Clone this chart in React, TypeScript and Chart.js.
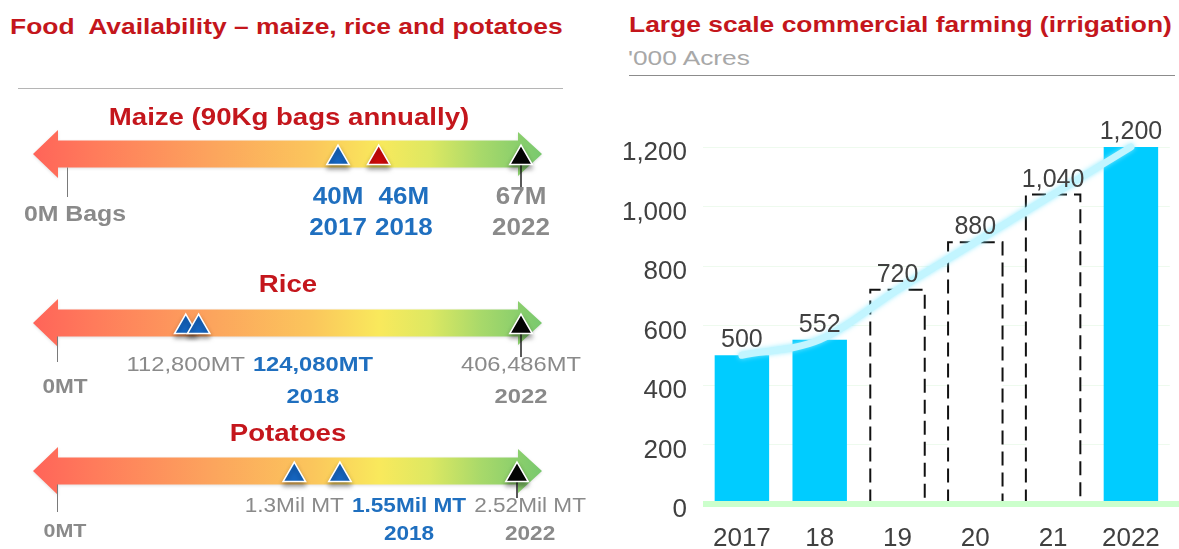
import React, { useEffect, useRef } from "react";
import { Chart, registerables } from "chart.js";
Chart.register(...registerables);

const FONT = "'Liberation Sans', Arial, Helvetica, sans-serif";

// ---------- Left panel data ----------
const maizeValues = [40, 46, 67];
const maizeLabels = ["40M", "46M", "67M"];
const maizeYears = ["2017", "2018", "2022"];

const riceValues = [112800, 124080, 406486];
const riceLabels = ["112,800MT", "124,080MT", "406,486MT"];
const riceYears = ["", "2018", "2022"];

const potatoValues = [1.3, 1.55, 2.52];
const potatoLabels = ["1.3Mil MT", "1.55Mil MT", "2.52Mil MT"];
const potatoYears = ["", "2018", "2022"];

// ---------- Right panel data ----------
const farmYears = ["2017", "18", "19", "20", "21", "2022"];
const farmAcres = [500, 552, 720, 880, 1040, 1200];
const farmProjected = [false, false, true, true, true, false];

// ---------- styles ----------
const RED = "#c4161c";
const BLUE = "#1f6fbf";
const GRAY = "#8a8a8a";
const M_BLUE = "#1565c0";
const M_RED = "#cc0a0a";
const M_BLACK = "#050505";
const SX = 1.13;

type Row = {
  values: number[];
  labels: string[];
  years: string[];
  zeroLabel: string;
  center: number;
  padLeft: number;
  padRight: number;
  marker: string[];
  textColor: string[];
  valueBold: boolean[];
  font: number;
  valueDy: number;
  yearDy: number;
  zeroDy: number;
  tickEnd: number;
};

const ROWS: Row[] = [
  {
    values: maizeValues, labels: maizeLabels, years: maizeYears, zeroLabel: "0M Bags",
    center: 153.5, padLeft: 67, padRight: 69,
    marker: [M_BLUE, M_RED, M_BLACK], textColor: [BLUE, BLUE, GRAY], valueBold: [true, true, true],
    font: 23, valueDy: 44, yearDy: 75, zeroDy: 61, tickEnd: 43,
  },
  {
    values: riceValues, labels: riceLabels, years: riceYears, zeroLabel: "0MT",
    center: 323, padLeft: 57, padRight: 69,
    marker: [M_BLUE, M_BLUE, M_BLACK], textColor: [GRAY, BLUE, GRAY], valueBold: [false, true, false],
    font: 21, valueDy: 42, yearDy: 74, zeroDy: 64, tickEnd: 39,
  },
  {
    values: potatoValues, labels: potatoLabels, years: potatoYears, zeroLabel: "0MT",
    center: 471, padLeft: 57, padRight: 73,
    marker: [M_BLUE, M_BLUE, M_BLACK], textColor: [GRAY, BLUE, GRAY], valueBold: [false, true, false],
    font: 20, valueDy: 35, yearDy: 63, zeroDy: 61, tickEnd: 41,
  },
];

const ROW_TOP_OFF = 45; // canvas top = center - 45
const ROW_H = 145;

function stretchText(ctx: CanvasRenderingContext2D, text: string, x: number, y: number, font: string, color: string, sx: number) {
  ctx.save();
  ctx.font = font;
  ctx.fillStyle = color;
  ctx.textAlign = "center";
  ctx.textBaseline = "middle";
  ctx.translate(x, y);
  ctx.scale(sx, 1);
  ctx.fillText(text, 0, 0);
  ctx.restore();
}

function measure(ctx: CanvasRenderingContext2D, text: string, font: string, sx: number) {
  ctx.save();
  ctx.font = font;
  const w = ctx.measureText(text).width * sx;
  ctx.restore();
  return w;
}

function makeArrowPlugin(row: Row) {
  return {
    id: "arrowDeco",
    beforeDatasetsDraw(chart: any) {
      const ctx: CanvasRenderingContext2D = chart.ctx;
      const xs = chart.scales.x;
      const ys = chart.scales.y;
      const cy = ys.getPixelForValue(0) - 4;
      const xL = 33, xBL = 58, xBR = 518, xR = 542;
      const bh = 13.5, hh = 24, rh = 22;
      const g = ctx.createLinearGradient(xL, 0, xR, 0);
      g.addColorStop(0, "#ff6459");
      g.addColorStop(0.12, "#ff7b5b");
      g.addColorStop(0.35, "#fca45d");
      g.addColorStop(0.55, "#fbc65c");
      g.addColorStop(0.68, "#f9e95c");
      g.addColorStop(0.78, "#dde862");
      g.addColorStop(0.88, "#a8d96a");
      g.addColorStop(1, "#78c86e");
      ctx.save();
      ctx.shadowColor = "rgba(0,0,0,0.12)";
      ctx.shadowBlur = 3;
      ctx.shadowOffsetY = 1;
      ctx.beginPath();
      ctx.moveTo(xL, cy);
      ctx.lineTo(xBL, cy - hh);
      ctx.lineTo(xBL, cy - bh);
      ctx.lineTo(xBR, cy - bh);
      ctx.lineTo(xBR, cy - rh);
      ctx.lineTo(xR, cy);
      ctx.lineTo(xBR, cy + rh);
      ctx.lineTo(xBR, cy + bh);
      ctx.lineTo(xBL, cy + bh);
      ctx.lineTo(xBL, cy + hh);
      ctx.closePath();
      ctx.fillStyle = g;
      ctx.fill();
      ctx.restore();

      // zero tick
      const x0 = xs.getPixelForValue(0);
      ctx.save();
      ctx.strokeStyle = "#7a7a7a";
      ctx.lineWidth = 1;
      ctx.beginPath();
      ctx.moveTo(Math.round(x0) + 0.5, cy + bh);
      ctx.lineTo(Math.round(x0) + 0.5, cy + row.tickEnd);
      ctx.stroke();
      // line under final marker
      const last = row.values.length - 1;
      const xm = xs.getPixelForValue(row.values[last]);
      ctx.strokeStyle = "#222";
      ctx.lineWidth = 1.5;
      ctx.beginPath();
      ctx.moveTo(xm, cy);
      ctx.lineTo(xm, cy + row.valueDy - 8);
      ctx.stroke();
      ctx.restore();

      // marker shadow
      ctx.save();
      ctx.shadowColor = "rgba(0,0,0,0.35)";
      ctx.shadowBlur = 5;
      ctx.shadowOffsetY = 4;
    },
    afterDatasetsDraw(chart: any) {
      const ctx: CanvasRenderingContext2D = chart.ctx;
      ctx.restore();
      const xs = chart.scales.x;
      const ys = chart.scales.y;
      const cy = ys.getPixelForValue(0) - 4;
      let prevRight = -Infinity;
      row.values.forEach((v, i) => {
        const fv = `${row.valueBold[i] ? "bold " : ""}${row.font}px ${FONT}`;
        const fy = `bold ${row.font}px ${FONT}`;
        const wv = measure(ctx, row.labels[i], fv, SX);
        const wy = row.years[i] ? measure(ctx, row.years[i], fy, SX) : 0;
        const w = Math.max(wv, wy);
        let c = xs.getPixelForValue(v);
        if (c - w / 2 < prevRight + 8) c = prevRight + 8 + w / 2;
        if (c + w / 2 > chart.width - 2) c = chart.width - 2 - w / 2;
        prevRight = c + w / 2;
        stretchText(ctx, row.labels[i], c, cy + row.valueDy, fv, row.textColor[i], SX);
        if (row.years[i]) stretchText(ctx, row.years[i], c, cy + row.yearDy, fy, row.textColor[i], SX);
      });
      const x0 = xs.getPixelForValue(0);
      const fz = `bold ${row.font - 1}px ${FONT}`;
      const wz = measure(ctx, row.zeroLabel, fz, SX);
      const cz = Math.max(x0 + 8, wz / 2 + 4);
      stretchText(ctx, row.zeroLabel, cz, cy + row.zeroDy, fz, GRAY, SX);
    },
  };
}

function ArrowRow({ row }: { row: Row }) {
  const ref = useRef<HTMLCanvasElement | null>(null);
  useEffect(() => {
    if (!ref.current) return;
    const chart = new Chart(ref.current, {
      type: "scatter",
      data: {
        datasets: [
          {
            data: row.values.map((v) => ({ x: v, y: 0 })),
            pointStyle: "triangle",
            pointRadius: 13,
            pointBackgroundColor: row.marker,
            pointBorderColor: "#ffffff",
            pointBorderWidth: 1.5,
            clip: false,
          } as any,
        ],
      },
      options: {
        animation: false,
        responsive: false,
        events: [],
        layout: {
          autoPadding: false,
          padding: { left: row.padLeft, right: row.padRight, top: 0, bottom: ROW_H - 2 * (ROW_TOP_OFF + 4) },
        },
        scales: {
          x: { type: "linear", min: 0, max: row.values[row.values.length - 1], display: false },
          y: { type: "linear", min: -1, max: 1, display: false },
        },
        plugins: { legend: { display: false }, tooltip: { enabled: false } },
      } as any,
      plugins: [makeArrowPlugin(row)],
    });
    return () => chart.destroy();
  }, [row]);
  return (
    <canvas
      ref={ref}
      width={590}
      height={ROW_H}
      style={{ position: "absolute", left: 0, top: row.center - ROW_TOP_OFF, width: 590, height: ROW_H }}
    />
  );
}

const farmPlugin = {
  id: "farmDeco",
  beforeDatasetDraw(chart: any, args: any) {
    if (args.index === 0) {
      const ctx = chart.ctx;
      ctx.save();
      ctx.shadowColor = "rgba(140,235,255,0.9)";
      ctx.shadowBlur = 5;
    }
  },
  afterDatasetDraw(chart: any, args: any) {
    const ctx: CanvasRenderingContext2D = chart.ctx;
    if (args.index === 0) {
      ctx.restore();
      return;
    }
    if (args.index === 1) {
      const meta = chart.getDatasetMeta(1);
      meta.data.forEach((el: any, i: number) => {
        if (!farmProjected[i]) return;
        const { x, y, base, width } = el.getProps(["x", "y", "base", "width"], true);
        ctx.save();
        ctx.setLineDash([14, 7]);
        ctx.strokeStyle = "#111";
        ctx.lineWidth = 2;
        ctx.beginPath();
        ctx.moveTo(x - width / 2, base);
        ctx.lineTo(x - width / 2, y);
        ctx.lineTo(x + width / 2, y);
        ctx.lineTo(x + width / 2, base);
        ctx.stroke();
        ctx.restore();
      });
    }
  },
  afterDatasetsDraw(chart: any) {
    const ctx: CanvasRenderingContext2D = chart.ctx;
    const ys = chart.scales.y;
    const y0 = ys.getPixelForValue(0);
    ctx.save();
    ctx.fillStyle = "#ccffcc";
    ctx.fillRect(chart.chartArea.left, y0 - 3, chart.width - chart.chartArea.left, 6);
    const meta = chart.getDatasetMeta(1);
    ctx.font = `25px ${FONT}`;
    ctx.fillStyle = "#404040";
    ctx.textAlign = "center";
    ctx.textBaseline = "alphabetic";
    meta.data.forEach((el: any, i: number) => {
      ctx.fillText(farmAcres[i].toLocaleString("en-US"), el.x, el.y - 8);
    });
    ctx.restore();
  },
};

function FarmChart() {
  const ref = useRef<HTMLCanvasElement | null>(null);
  useEffect(() => {
    if (!ref.current) return;
    const chart = new Chart(ref.current, {
      data: {
        labels: farmYears,
        datasets: [
          {
            type: "line",
            data: farmAcres,
            borderColor: "#c2f5ff",
            borderWidth: 7,
            pointRadius: 0,
            cubicInterpolationMode: "monotone",
            borderCapStyle: "round",
            order: 0,
            clip: false,
          } as any,
          {
            type: "bar",
            data: farmAcres,
            backgroundColor: farmProjected.map((p) => (p ? "#ffffff" : "#00ccff")),
            barPercentage: 0.7,
            categoryPercentage: 1,
            order: 1,
          } as any,
        ],
      },
      options: {
        animation: false,
        responsive: false,
        events: [],
        layout: { padding: { top: 57, right: 2, left: 0, bottom: 0 } },
        scales: {
          x: {
            grid: { display: false, drawTicks: false },
            border: { display: false },
            ticks: { font: { size: 26, family: FONT }, color: "#404040", padding: 19 },
            afterFit: (s: any) => {
              s.height = 45;
            },
          } as any,
          y: {
            min: 0,
            max: 1200,
            ticks: {
              stepSize: 200,
              font: { size: 26, family: FONT },
              color: "#404040",
              padding: 16,
              labelOffset: 6,
              callback: (v: any) => Number(v).toLocaleString("en-US"),
            },
            grid: { color: "rgba(200,240,200,0.3)", drawTicks: false },
            border: { display: false },
            afterFit: (s: any) => {
              s.width = 103;
            },
          } as any,
        },
        plugins: { legend: { display: false }, tooltip: { enabled: false } },
      },
      plugins: [farmPlugin],
    });
    return () => chart.destroy();
  }, []);
  return (
    <canvas
      ref={ref}
      width={579}
      height={459}
      style={{ position: "absolute", left: 600, top: 90, width: 579, height: 459 }}
    />
  );
}

function Label(props: { text: string; left: number; top: number; size: number; color: string; bold?: boolean; center?: boolean; sx?: number }) {
  const sx = props.sx ?? 1.2;
  return (
    <div
      style={{
        position: "absolute",
        left: props.left,
        top: props.top,
        fontFamily: FONT,
        fontSize: props.size,
        lineHeight: 1,
        fontWeight: props.bold ? 700 : 400,
        color: props.color,
        whiteSpace: "pre",
        transformOrigin: "0 50%",
        transform: props.center ? `scaleX(${sx}) translateX(-50%)` : `scaleX(${sx})`,
      }}
    >
      {props.text}
    </div>
  );
}

export default function App() {
  return (
    <div style={{ position: "absolute", left: 0, top: 0, width: 1179, height: 549, background: "#fff", overflow: "hidden" }}>
      {ROWS.map((r, i) => (
        <ArrowRow key={i} row={r} />
      ))}
      <FarmChart />
      <Label text={"Food  Availability \u2013 maize, rice and potatoes"} left={10} top={15.5} size={22} color={RED} bold sx={1.2} />
      <div style={{ position: "absolute", left: 18, top: 88, width: 545, height: 1, background: "#b5b5b5" }} />
      <Label text="Maize (90Kg bags annually)" left={289} top={105} size={24} color={RED} bold center sx={1.15} />
      <Label text="Rice" left={288} top={271.5} size={24} color={RED} bold center sx={1.15} />
      <Label text="Potatoes" left={288} top={420.5} size={24} color={RED} bold center sx={1.15} />
      <Label text="Large scale commercial farming (irrigation)" left={629} top={13.7} size={22} color={RED} bold sx={1.2} />
      <Label text="'000 Acres" left={628} top={47} size={21} color="#a8a8a8" sx={1.25} />
      <div style={{ position: "absolute", left: 629, top: 75, width: 546, height: 1, background: "#8c8c8c" }} />
    </div>
  );
}
